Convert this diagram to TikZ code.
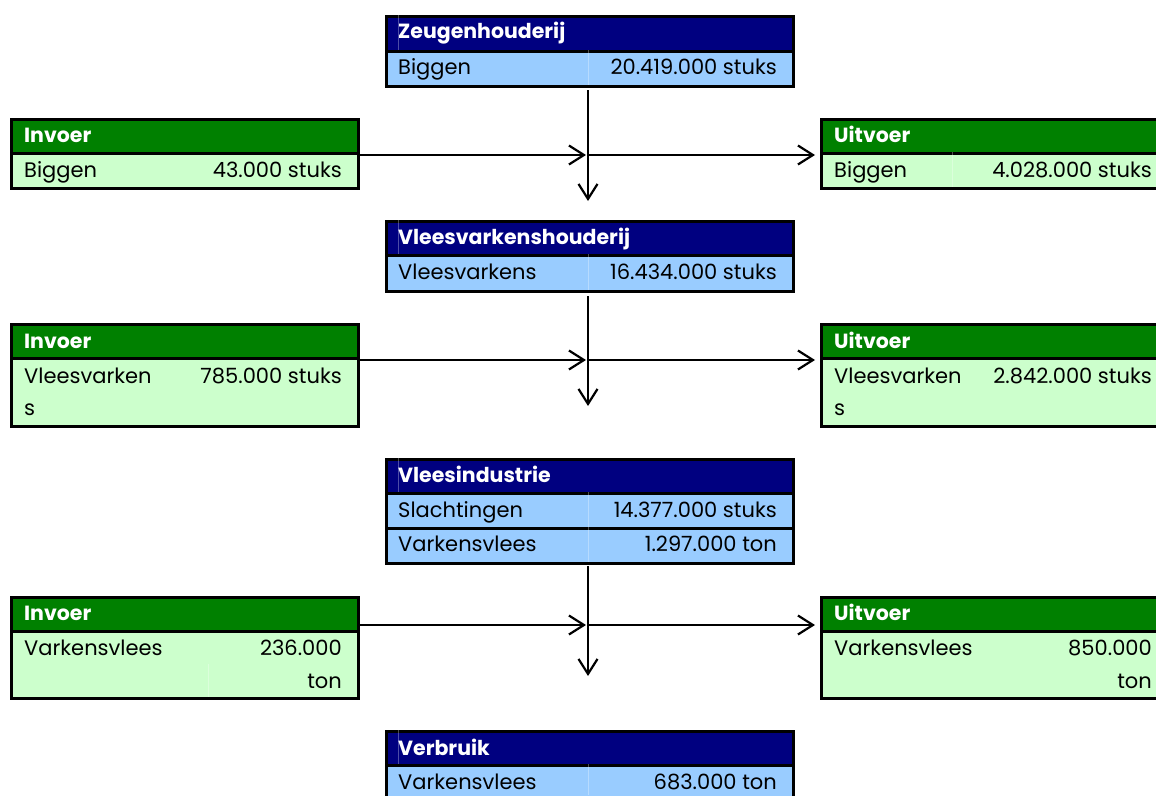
\documentclass[tikz,border=0pt]{standalone}
\usepackage{fontspec}
\setmainfont{Poppins}
\usetikzlibrary{arrows.meta}
\definecolor{navy}{HTML}{000080}
\definecolor{lblue}{HTML}{99CCFF}
\definecolor{dgreen}{HTML}{008000}
\definecolor{lgreen}{HTML}{CCFFCC}
\tikzset{
  cellbox/.style={draw=black, line width=2.6pt, inner sep=0pt, anchor=north west},
  hdrtext/.style={text=white, font=\fontsize{20.5}{24}\selectfont\bfseries, anchor=base west, inner sep=0pt},
  ltext/.style={text=black, font=\fontsize{21}{24}\selectfont, anchor=base west, inner sep=0pt},
  rtext/.style={text=black, font=\fontsize{21}{24}\selectfont, anchor=base east, inner sep=0pt},
  flow/.style={line width=2.2pt, -{Straight Barb[length=15pt,width=19pt,line width=2.2pt]}},
  grid/.style={draw=white, line width=0.8pt, opacity=0.3}
}
\newcommand\cellbox[6]{\node[cellbox, fill=#6, minimum width=#4pt, minimum height=#5pt] (#1) at (#2,#3) {};}
\begin{document}
\begin{tikzpicture}[x=1pt,y=-1pt]
\useasboundingbox (0,0) rectangle (1156,795);
% ---- Zeugenhouderij
\cellbox{zh}{385}{15}{407}{35}{navy}
\cellbox{zr}{385}{50}{407}{35}{lblue}
\draw[grid] (398,15) -- (398,50);
\draw[grid] (588,50) -- (588,85);
\node[hdrtext] (zht) at (398,38) {Zeugenhouderij};
\node[ltext] (zrl) at (398,74) {Biggen};
\node[rtext] (zrv) at (777,74) {20.419.000 stuks};
% ---- Invoer 1
\cellbox{i1h}{10}{118}{347}{34}{dgreen}
\cellbox{i1r}{10}{152}{347}{35}{lgreen}
\node[hdrtext] (i1t) at (24,142) {Invoer};
\node[ltext] (i1l) at (24,177) {Biggen};
\node[rtext] (i1v) at (342,177) {43.000 stuks};
% ---- Uitvoer 1
\cellbox{u1h}{820}{118}{345}{34}{dgreen}
\cellbox{u1r}{820}{152}{345}{35}{lgreen}
\draw[grid] (952,152) -- (952,187);
\node[hdrtext] (u1t) at (834,142) {Uitvoer};
\node[ltext] (u1l) at (834,177) {Biggen};
\node[rtext] (u1v) at (1152,177) {4.028.000 stuks};
% ---- Vleesvarkenshouderij
\cellbox{vh}{385}{220}{407}{34}{navy}
\cellbox{vr}{385}{254}{407}{36}{lblue}
\draw[grid] (398,220) -- (398,254);
\draw[grid] (588,254) -- (588,290);
\node[hdrtext] (vht) at (398,244) {Vleesvarkenshouderij};
\node[ltext] (vrl) at (398,279) {Vleesvarkens};
\node[rtext] (vrv) at (777,279) {16.434.000 stuks};
% ---- Invoer 2
\cellbox{i2h}{10}{323}{347}{34}{dgreen}
\cellbox{i2r}{10}{357}{347}{68}{lgreen}
\node[hdrtext] (i2t) at (24,348) {Invoer};
\node[ltext] (i2l) at (24,383) {Vleesvarken};
\node[ltext] (i2l2) at (24,415) {s};
\node[rtext] (i2v) at (342,383) {785.000 stuks};
% ---- Uitvoer 2
\cellbox{u2h}{820}{323}{345}{34}{dgreen}
\cellbox{u2r}{820}{357}{345}{68}{lgreen}
\node[hdrtext] (u2t) at (834,348) {Uitvoer};
\node[ltext] (u2l) at (834,383) {Vleesvarken};
\node[ltext] (u2l2) at (834,415) {s};
\node[rtext] (u2v) at (1152,383) {2.842.000 stuks};
% ---- Vleesindustrie
\cellbox{ih}{385}{458}{407}{34}{navy}
\cellbox{ir1}{385}{492}{407}{35}{lblue}
\cellbox{ir2}{385}{527}{407}{35}{lblue}
\draw[grid] (398,458) -- (398,492);
\draw[grid] (588,492) -- (588,562);
\node[hdrtext] (iht) at (398,482) {Vleesindustrie};
\node[ltext] (ir1l) at (398,517) {Slachtingen};
\node[rtext] (ir1v) at (777,517) {14.377.000 stuks};
\node[ltext] (ir2l) at (398,551) {Varkensvlees};
\node[rtext] (ir2v) at (777,551) {1.297.000 ton};
% ---- Invoer 3
\cellbox{i3h}{10}{596}{347}{34}{dgreen}
\cellbox{i3r}{10}{630}{347}{67}{lgreen}
\draw[grid] (208,664) -- (208,697);
\node[hdrtext] (i3t) at (24,620) {Invoer};
\node[ltext] (i3l) at (24,655) {Varkensvlees};
\node[rtext] (i3v) at (342,655) {236.000};
\node[rtext] (i3v2) at (342,688) {ton};
% ---- Uitvoer 3
\cellbox{u3h}{820}{596}{345}{34}{dgreen}
\cellbox{u3r}{820}{630}{345}{67}{lgreen}
\node[hdrtext] (u3t) at (834,620) {Uitvoer};
\node[ltext] (u3l) at (834,655) {Varkensvlees};
\node[rtext] (u3v) at (1152,655) {850.000};
\node[rtext] (u3v2) at (1152,688) {ton};
% ---- Verbruik
\cellbox{bh}{385}{730}{407}{34}{navy}
\cellbox{br}{385}{764}{407}{45}{lblue}
\draw[grid] (398,730) -- (398,764);
\draw[grid] (588,764) -- (588,795);
\node[hdrtext] (bht) at (398,755) {Verbruik};
\node[ltext] (brl) at (398,789) {Varkensvlees};
\node[rtext] (brv) at (777,789) {683.000 ton};
% ---- connectors
\coordinate (v1s) at (588,90);  \coordinate (v1e) at (588,201);
\coordinate (h1s) at (360,155); \coordinate (j1) at (588,155); \coordinate (h1e) at (815,155);
\coordinate (v2s) at (588,296); \coordinate (v2e) at (588,406);
\coordinate (h2s) at (360,360); \coordinate (j2) at (588,360); \coordinate (h2e) at (815,360);
\coordinate (v3s) at (588,566); \coordinate (v3e) at (588,676);
\coordinate (h3s) at (360,625); \coordinate (j3) at (588,625); \coordinate (h3e) at (815,625);
\draw[flow] (v1s) -- (v1e);
\draw[flow] (h1s) -- ([xshift=-2pt]j1);
\draw[flow] (j1) -- (h1e);
\draw[flow] (v2s) -- (v2e);
\draw[flow] (h2s) -- ([xshift=-2pt]j2);
\draw[flow] (j2) -- (h2e);
\draw[flow] (v3s) -- (v3e);
\draw[flow] (h3s) -- ([xshift=-2pt]j3);
\draw[flow] (j3) -- (h3e);
\end{tikzpicture}
\end{document}
